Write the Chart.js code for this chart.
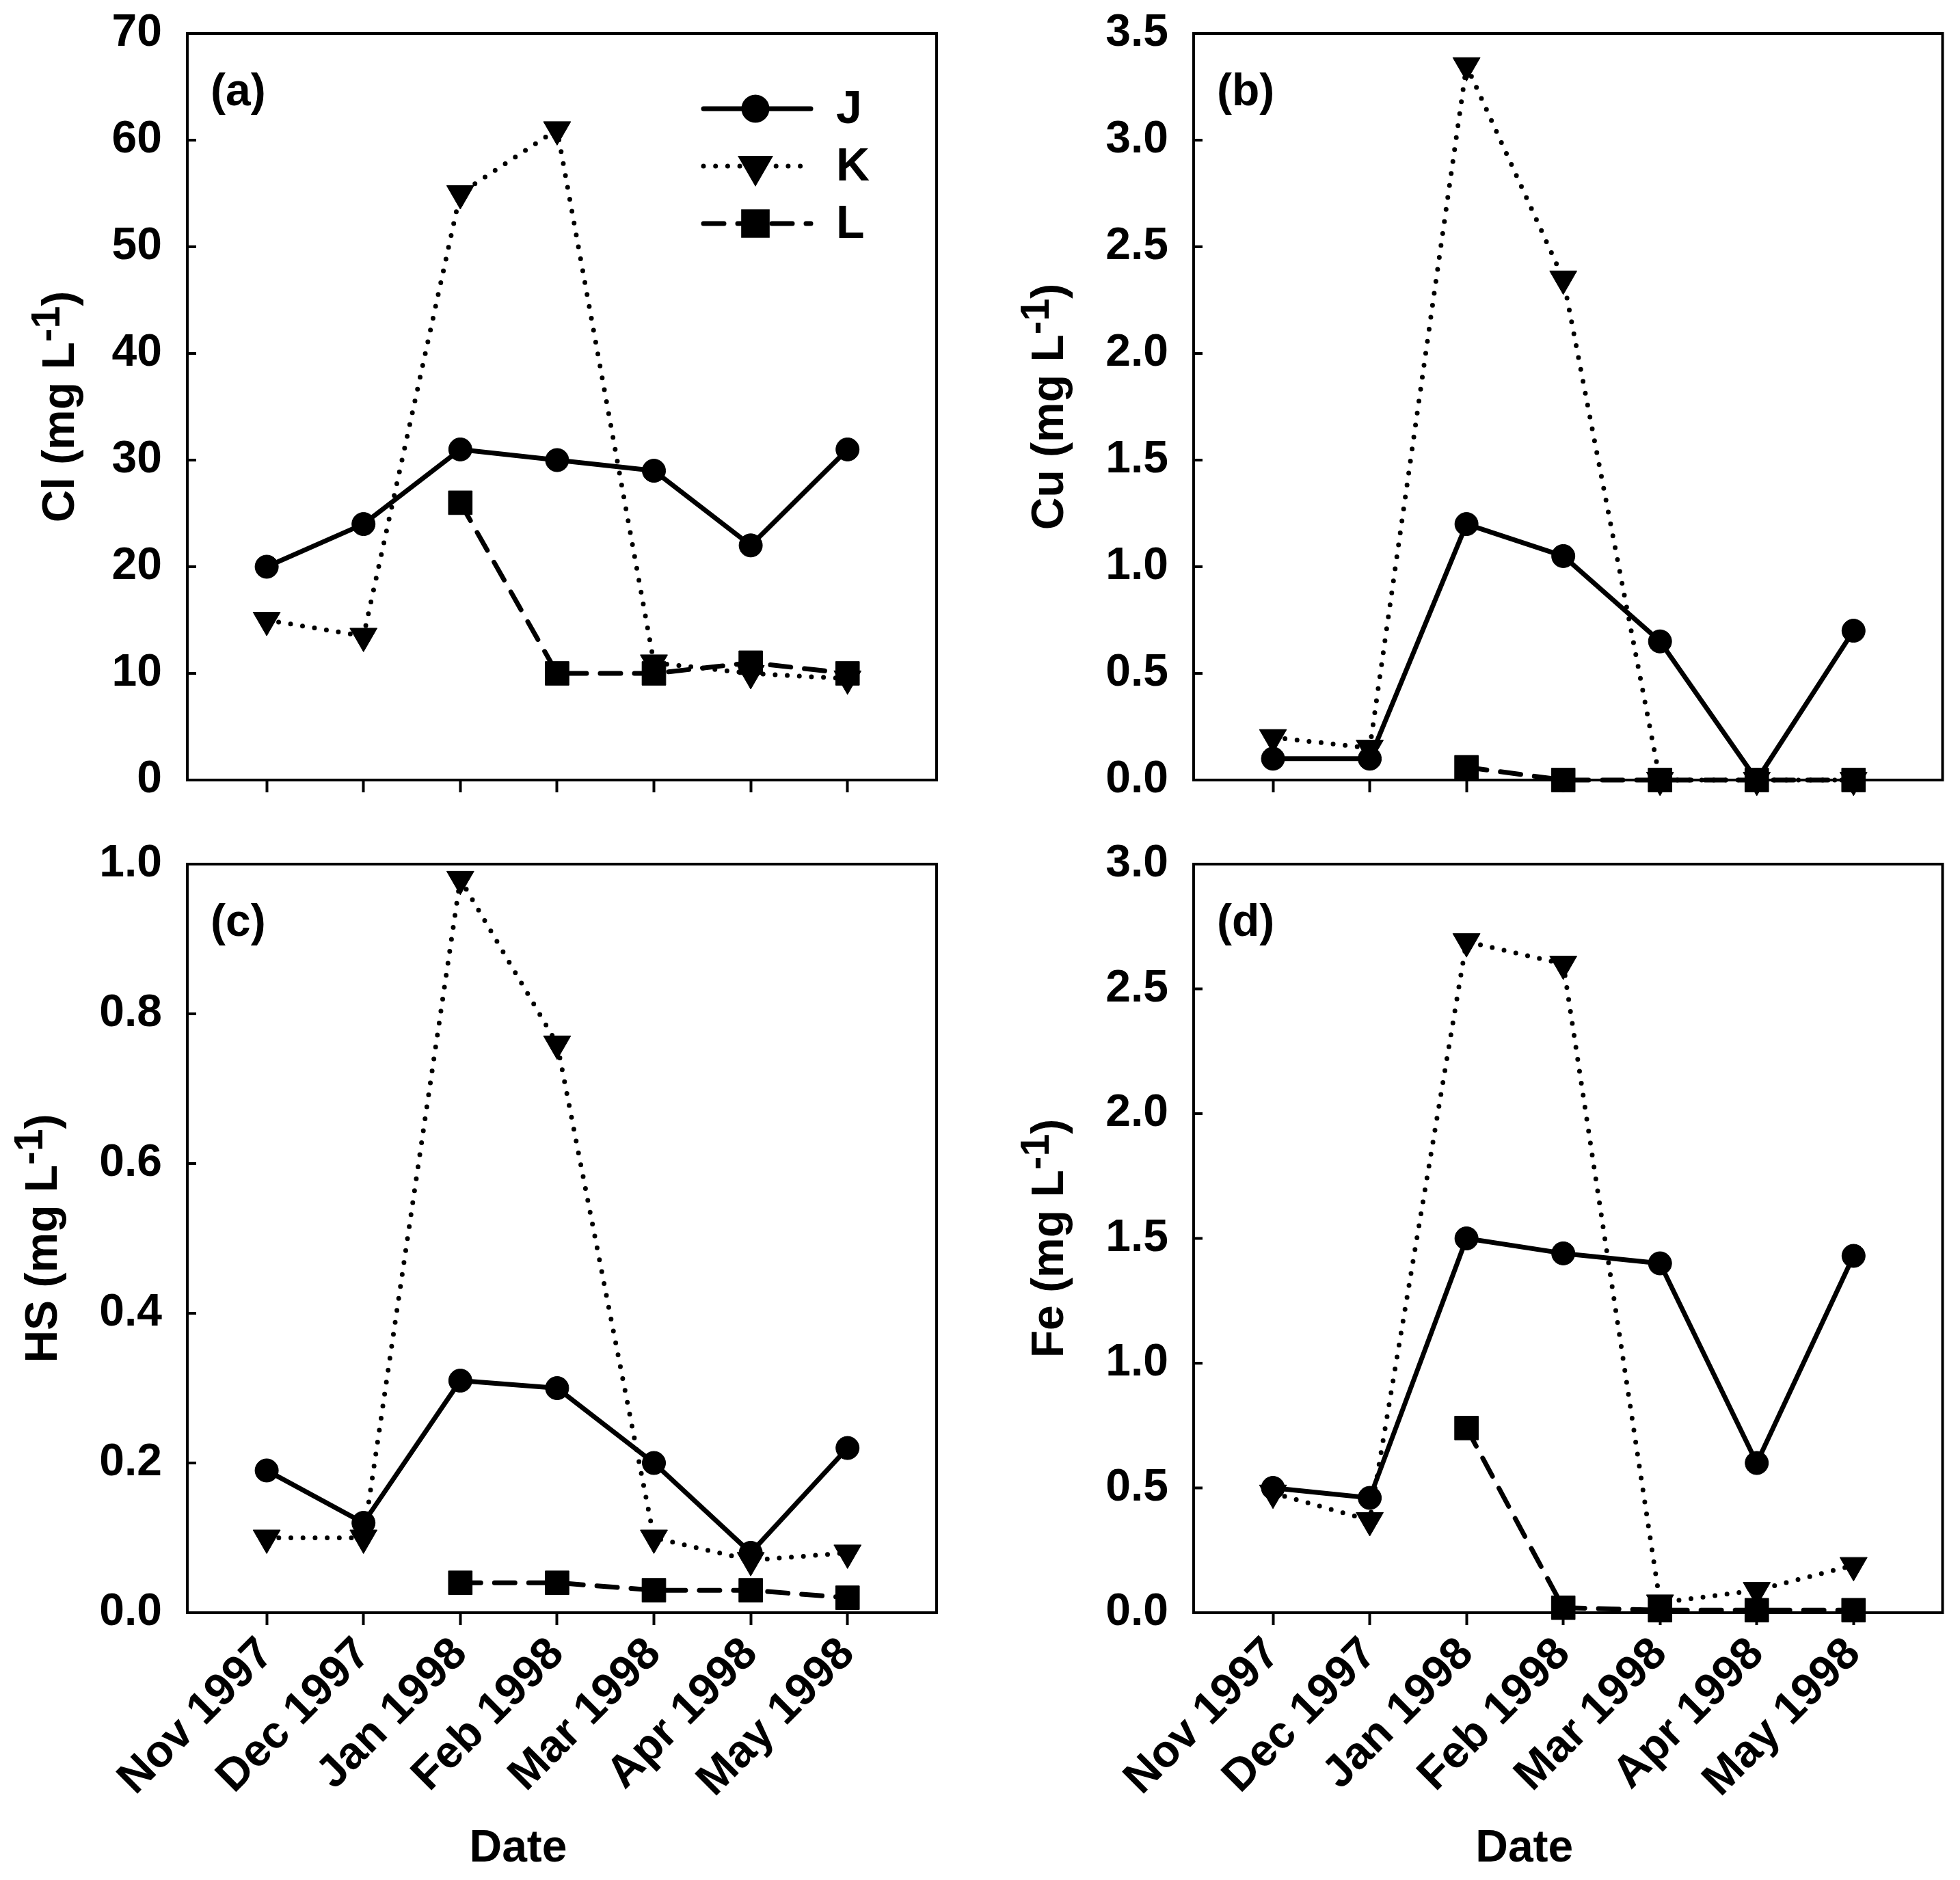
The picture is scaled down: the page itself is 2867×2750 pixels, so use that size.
<!DOCTYPE html>
<html><head><meta charset="utf-8">
<script src="https://cdn.jsdelivr.net/npm/chart.js@4.4.0/dist/chart.umd.min.js"></script>
<style>
html,body{margin:0;padding:0;background:#fff;}
#wrap{position:relative;width:2867px;height:2750px;overflow:hidden;background:#fff;}
canvas{position:absolute;}
</style></head><body>
<div id="wrap">
<canvas id="ca" width="1434" height="1200" style="left:0;top:0"></canvas>
<canvas id="cb" width="1433" height="1200" style="left:1434px;top:0"></canvas>
<canvas id="cc" width="1434" height="1550" style="left:0;top:1200px"></canvas>
<canvas id="cd" width="1433" height="1550" style="left:1434px;top:1200px"></canvas>
</div>
<script>
// ---- data ----
const dates = ['Nov 1997','Dec 1997','Jan 1998','Feb 1998','Mar 1998','Apr 1998','May 1998'];
const seriesNames = ['J','K','L'];

const clJ = [20, 24, 31, 30, 29, 22, 31];
const clK = [15, 13.5, 55, 61, 11, 10, 9.5];
const clL = [null, null, 26, 10, 10, 11, 10];

const cuJ = [0.1, 0.1, 1.2, 1.05, 0.65, 0, 0.7];
const cuK = [0.2, 0.15, 3.35, 2.35, 0, 0, 0];
const cuL = [null, null, 0.06, 0, 0, 0, 0];

const hsJ = [0.19, 0.12, 0.31, 0.30, 0.20, 0.08, 0.22];
const hsK = [0.1, 0.1, 0.98, 0.76, 0.1, 0.07, 0.08];
const hsL = [null, null, 0.04, 0.04, 0.03, 0.03, 0.02];

const feJ = [0.5, 0.46, 1.5, 1.44, 1.4, 0.6, 1.43];
const feK = [0.48, 0.37, 2.69, 2.6, 0.04, 0.09, 0.19];
const feL = [null, null, 0.74, 0.02, 0.01, 0.01, 0.01];

const clTicks = [0, 10, 20, 30, 40, 50, 60, 70];
const cuTicks = [0, 0.5, 1.0, 1.5, 2.0, 2.5, 3.0, 3.5];
const hsTicks = [0, 0.2, 0.4, 0.6, 0.8, 1.0];
const feTicks = [0, 0.5, 1.0, 1.5, 2.0, 2.5, 3.0];

// ---- styling ----
const FONT = '"Liberation Sans", Arial, Helvetica, sans-serif';
const FS = 66;
const LW = 7;
const styles = [
  {pointStyle:'circle', pointRadius:17, pointRotation:0, borderDash:[]},
  {pointStyle:'triangle', pointRadius:23, pointRotation:180, borderDash:[0, 17.7]},
  {pointStyle:'rect', pointRadius:24.5, pointRotation:0, borderDash:[30, 20]}
];

function makeDatasets(arrs){
  return arrs.map((vals, k) => ({
    label: seriesNames[k],
    data: vals.map((v, i) => ({x: i, y: v})),
    borderColor: '#000',
    backgroundColor: '#000',
    borderWidth: LW,
    borderDash: styles[k].borderDash,
    borderCapStyle: 'round',
    borderJoinStyle: 'round',
    pointStyle: styles[k].pointStyle,
    pointRadius: styles[k].pointRadius,
    pointRotation: styles[k].pointRotation,
    pointBorderWidth: 1,
    pointBorderColor: '#000',
    pointBackgroundColor: '#000',
    pointHoverRadius: styles[k].pointRadius,
    tension: 0,
    spanGaps: false,
    clip: false
  }));
}

const decor = {
  id: 'decor',
  beforeDatasetsDraw(chart, args, o){
    const ctx = chart.ctx, a = chart.chartArea, ys = chart.scales.y;
    ctx.save();
    ctx.strokeStyle = '#000';
    ctx.lineWidth = 4;
    ctx.setLineDash([]);
    ctx.strokeRect(a.left, a.top, a.right - a.left, a.bottom - a.top);
    ctx.beginPath();
    ys.ticks.forEach(t => {
      const py = ys.getPixelForValue(t.value);
      ctx.moveTo(a.left, py); ctx.lineTo(a.left + 13, py);
    });
    ctx.stroke();
    ctx.restore();
  },
  afterDraw(chart, args, o){
    const ctx = chart.ctx, a = chart.chartArea;
    ctx.save();
    ctx.fillStyle = '#000';
    // panel letter
    ctx.font = `bold ${FS}px ${FONT}`;
    ctx.textAlign = 'left'; ctx.textBaseline = 'middle';
    ctx.fillText(o.letter, a.left + 34, a.top + 87);
    // y title with superscript
    const t1 = o.title + ' (mg L', sup = '-1', t3 = ')';
    const mainF = `bold ${FS}px ${FONT}`, supF = `bold ${Math.round(FS*0.9)}px ${FONT}`;
    ctx.font = mainF; const w1 = ctx.measureText(t1).width, w3 = ctx.measureText(t3).width;
    ctx.font = supF; const w2 = ctx.measureText(sup).width;
    const tot = w1 + w2 + w3;
    ctx.save();
    ctx.translate(o.titleX, (a.top + a.bottom) / 2);
    ctx.rotate(-Math.PI / 2);
    ctx.textBaseline = 'alphabetic'; ctx.textAlign = 'left';
    let x = -tot / 2;
    ctx.font = mainF; ctx.fillText(t1, x, 0); x += w1;
    ctx.font = supF; ctx.fillText(sup, x, -21); x += w2;
    ctx.font = mainF; ctx.fillText(t3, x, 0);
    ctx.restore();
    // Date title
    if (o.date) {
      ctx.font = `bold ${FS}px ${FONT}`;
      ctx.textAlign = 'center'; ctx.textBaseline = 'middle';
      ctx.fillText('Date', (a.left + a.right) / 2 - 64, a.bottom + 346);
    }
    // legend
    if (o.legend) {
      const x0 = 1029, x1 = 1186, xm = 1105, xl = 1223, y0 = 159, dy = 84;
      chart.data.datasets.forEach((ds, k) => {
        const yy = y0 + k * dy;
        ctx.save();
        ctx.strokeStyle = '#000'; ctx.lineWidth = LW; ctx.lineCap = 'round';
        ctx.setLineDash(ds.borderDash);
        ctx.beginPath(); ctx.moveTo(x0, yy); ctx.lineTo(x1, yy); ctx.stroke();
        ctx.setLineDash([]);
        ctx.fillStyle = '#000';
        Chart.helpers.drawPoint(ctx, {pointStyle: ds.pointStyle, radius: ds.pointRadius, rotation: ds.pointRotation, borderWidth: 1}, xm, yy);
        ctx.restore();
        ctx.font = `bold ${FS + 2}px ${FONT}`;
        ctx.textAlign = 'left'; ctx.textBaseline = 'middle';
        ctx.fillStyle = '#000';
        ctx.fillText(ds.label, xl, yy + 2);
      });
    }
    ctx.restore();
  }
};

function makeChart(id, arrs, ticks, fmt, cfg){
  const canvas = document.getElementById(id);
  return new Chart(canvas, {
    type: 'line',
    data: { datasets: makeDatasets(arrs) },
    plugins: [decor],
    options: {
      responsive: false,
      animation: false,
      devicePixelRatio: 1,
      events: [],
      layout: { padding: { top: cfg.top, right: cfg.right, left: 0, bottom: 0 } },
      plugins: {
        legend: { display: false },
        tooltip: { enabled: false },
        decor: { letter: cfg.letter, title: cfg.title, titleX: cfg.titleX, legend: cfg.legend, date: cfg.showX }
      },
      scales: {
        x: {
          type: 'linear',
          min: -0.82, max: 6.92,
          afterBuildTicks: s => { s.ticks = dates.map((d, i) => ({ value: i })); },
          afterFit: s => { s.height = cfg.xh; s.paddingLeft = 0; s.paddingRight = 0; s.paddingTop = 0; s.paddingBottom = 0; },
          border: { display: false },
          grid: { display: true, drawOnChartArea: false, drawTicks: true, tickLength: 18, tickWidth: 4, tickColor: '#000' },
          ticks: {
            display: cfg.showX,
            autoSkip: false,
            minRotation: 45, maxRotation: 45,
            padding: 4,
            color: '#000',
            font: { family: FONT, size: FS, weight: 'bold' },
            callback: v => dates[v]
          }
        },
        y: {
          type: 'linear',
          min: ticks[0], max: ticks[ticks.length - 1],
          afterBuildTicks: s => { s.ticks = ticks.map(v => ({ value: v })); },
          afterFit: s => { s.width = cfg.yw; s.paddingTop = 0; s.paddingBottom = 0; s.paddingLeft = 0; s.paddingRight = 0; },
          border: { display: false },
          grid: { display: false, drawTicks: false },
          ticks: {
            padding: 37,
            color: '#000',
            font: { family: FONT, size: FS, weight: 'bold' },
            callback: v => fmt(v)
          }
        }
      }
    }
  });
}

const f0 = v => String(Math.round(v));
const f1 = v => Number(v).toFixed(1);

makeChart('ca', [clJ, clK, clL], clTicks, f0, {top: 49, right: 64, yw: 274, xh: 59, letter: '(a)', title: 'Cl', titleX: 108, legend: true, showX: false});
makeChart('cb', [cuJ, cuK, cuL], cuTicks, f1, {top: 49, right: 22, yw: 312, xh: 59, letter: '(b)', title: 'Cu', titleX: 121, legend: false, showX: false});
makeChart('cc', [hsJ, hsK, hsL], hsTicks, f1, {top: 64, right: 64, yw: 274, xh: 391, letter: '(c)', title: 'HS', titleX: 83, legend: false, showX: true});
makeChart('cd', [feJ, feK, feL], feTicks, f1, {top: 64, right: 22, yw: 312, xh: 391, letter: '(d)', title: 'Fe', titleX: 121, legend: false, showX: true});
</script>
</body></html>
